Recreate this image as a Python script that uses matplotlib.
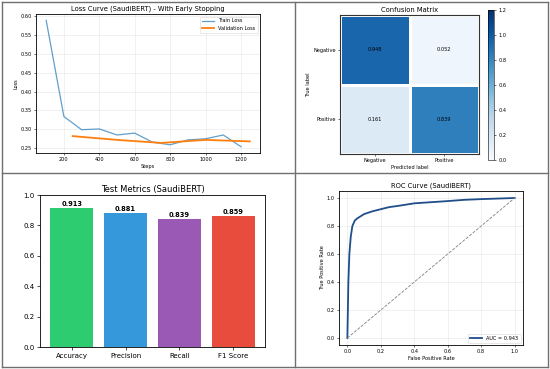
import matplotlib
matplotlib.use("Agg")
import matplotlib.pyplot as plt
import numpy as np
from matplotlib.lines import Line2D

# ---- data ----
train_steps = [100, 200, 300, 400, 500, 600, 700, 800, 900, 1000, 1100, 1200]
train_loss = [0.589, 0.334, 0.299, 0.301, 0.285, 0.290, 0.266, 0.259, 0.272, 0.275, 0.285, 0.254]
val_steps = [250, 500, 750, 1000, 1250]
val_loss = [0.282, 0.272, 0.264, 0.272, 0.268]

cm_labels = ["Negative", "Positive"]
cm_values = [[0.948, 0.052], [0.161, 0.839]]

metric_names = ["Accuracy", "Precision", "Recall", "F1 Score"]
metric_values = [0.913, 0.881, 0.839, 0.859]
metric_colors = ["#2ecc71", "#3498db", "#9b59b6", "#e74c3c"]

roc_fpr = [0.0, 0.003, 0.006, 0.012, 0.02, 0.03, 0.045, 0.06, 0.1, 0.15, 0.2, 0.25,
           0.3, 0.4, 0.5, 0.6, 0.7, 0.8, 0.9, 1.0]
roc_tpr = [0.0, 0.2, 0.4, 0.6, 0.72, 0.8, 0.84, 0.855, 0.885, 0.905, 0.92, 0.935,
           0.943, 0.962, 0.97, 0.978, 0.987, 0.992, 0.996, 1.0]
auc_value = 0.943

W, H = 550, 369
fig = plt.figure(figsize=(W / 100, H / 100), dpi=100)
fig.patch.set_facecolor("white")

def rect(l, t, r, b):
    return [l / W, 1 - b / H, (r - l) / W, (b - t) / H]

small = 3.6
mid = 4.9

# ---- Loss curve ----
ax1 = fig.add_axes(rect(36, 14, 260, 153))
ax1.plot(train_steps, train_loss, color="#1f77b4", alpha=0.7, lw=0.9, label="Train Loss")
ax1.plot(val_steps, val_loss, color="#ff7f0e", lw=1.3, label="Validation Loss")
ax1.set_title("Loss Curve (SaudiBERT) - With Early Stopping", fontsize=mid, pad=2.5)
ax1.set_xlabel("Steps", fontsize=small, labelpad=1)
ax1.set_ylabel("Loss", fontsize=small, labelpad=1.5)
ax1.tick_params(labelsize=small, length=1.5, width=0.4, pad=1.5)
ax1.set_xticks([200, 400, 600, 800, 1000, 1200])
ax1.set_yticks([0.25, 0.30, 0.35, 0.40, 0.45, 0.50, 0.55, 0.60])
ax1.grid(True, alpha=0.3, lw=0.4)
leg = ax1.legend(fontsize=small, loc="upper right", frameon=True, handlelength=2.5,
                 borderpad=0.4, labelspacing=0.4)
leg.get_frame().set_linewidth(0.4)
for s in ax1.spines.values():
    s.set_linewidth(0.6)

# ---- Confusion matrix ----
ax2 = fig.add_axes(rect(340, 15, 479, 154))
cmarr = np.array(cm_values)
mesh = ax2.pcolormesh(np.arange(3), np.arange(3), cmarr, cmap="Blues", vmin=0, vmax=1.2,
                      edgecolors="white", linewidth=0.8)
ax2.set_xlim(0, 2)
ax2.set_ylim(2, 0)
for i in range(2):
    for j in range(2):
        ax2.text(j + 0.5, i + 0.5, f"{cmarr[i, j]:.3f}", ha="center", va="center",
                 fontsize=small, color="black")
ax2.set_xticks([0.5, 1.5])
ax2.set_xticklabels(cm_labels)
ax2.set_yticks([0.5, 1.5])
ax2.set_yticklabels(cm_labels)
ax2.tick_params(labelsize=small, length=1.5, width=0.4, pad=1.5)
ax2.set_title("Confusion Matrix", fontsize=mid, pad=2.5)
ax2.set_xlabel("Predicted label", fontsize=small, labelpad=1)
ax2.set_ylabel("True label", fontsize=small, labelpad=1.5)
for s in ax2.spines.values():
    s.set_linewidth(0.8)
    s.set_edgecolor("#333333")
cax = fig.add_axes(rect(488, 10, 494, 160))
cb = fig.colorbar(mesh, cax=cax, ticks=[0.0, 0.2, 0.4, 0.6, 0.8, 1.0, 1.2])
cb.ax.tick_params(labelsize=small, length=1.5, width=0.4, pad=1.5)
cb.outline.set_linewidth(0.4)

# ---- Test metrics ----
ax3 = fig.add_axes(rect(40, 195, 265, 347))
bars = ax3.bar(metric_names, metric_values, color=metric_colors, width=0.8)
for b, v in zip(bars, metric_values):
    ax3.text(b.get_x() + b.get_width() / 2, v + 0.01, f"{v:.3f}", ha="center", va="bottom",
             fontsize=4.8, fontweight="bold")
ax3.set_ylim(0, 1.0)
ax3.set_title("Test Metrics (SaudiBERT)", fontsize=6.0, pad=2.5)
ax3.tick_params(labelsize=5.0, length=2, width=0.5, pad=2)
for s in ax3.spines.values():
    s.set_linewidth(0.6)

# ---- ROC curve ----
ax4 = fig.add_axes(rect(339, 191, 523, 345))
ax4.plot(roc_fpr, roc_tpr, color="#1f4e89", lw=1.3, label=f"AUC = {auc_value:.3f}")
ax4.plot([0, 1], [0, 1], color="gray", ls="--", lw=0.6)
ax4.set_title("ROC Curve (SaudiBERT)", fontsize=mid, pad=2.5)
ax4.set_xlabel("False Positive Rate", fontsize=small, labelpad=1)
ax4.set_ylabel("True Positive Rate", fontsize=small, labelpad=1.5)
ax4.set_xticks([0.0, 0.2, 0.4, 0.6, 0.8, 1.0])
ax4.set_yticks([0.0, 0.2, 0.4, 0.6, 0.8, 1.0])
ax4.tick_params(labelsize=small, length=1.5, width=0.4, pad=1.5)
ax4.grid(True, alpha=0.3, lw=0.4)
leg4 = ax4.legend(fontsize=small, loc="lower right", handlelength=2.5, borderpad=0.4)
leg4.get_frame().set_linewidth(0.4)
for s in ax4.spines.values():
    s.set_linewidth(0.6)

# ---- panel frames ----
fc = "#707070"
def fline(x0, y0, x1, y1, lw=1.0):
    fig.add_artist(Line2D([x0 / W, x1 / W], [1 - y0 / H, 1 - y1 / H], color=fc, lw=lw))

fline(2, 2, 548, 2)
fline(2, 367, 548, 367)
fline(2, 2, 2, 367)
fline(548, 2, 548, 367)
fline(295, 2, 295, 367)
fline(2, 173, 548, 173)

fig.savefig("out.png", dpi=100, facecolor="white")
